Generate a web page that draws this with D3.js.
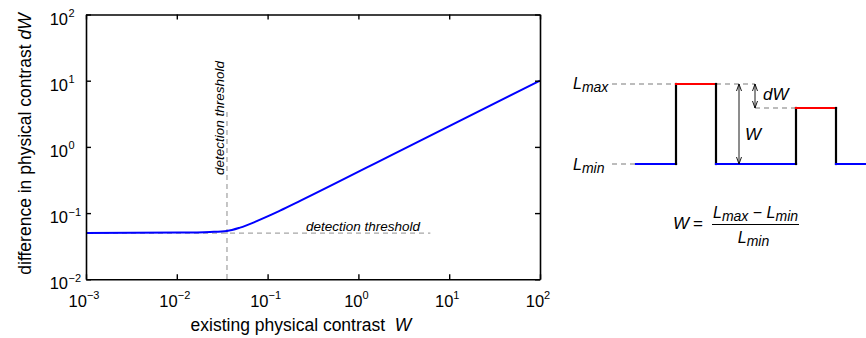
<!DOCTYPE html>
<html>
<head>
<meta charset="utf-8">
<script src="https://cdn.jsdelivr.net/npm/d3@7"></script>
<style>
  html, body { margin: 0; padding: 0; background: #fff; }
  svg { display: block; }
  text { font-family: "Liberation Sans", Arial, Helvetica, sans-serif; fill: #000; }
</style>
</head>
<body>
<svg id="chart" width="866" height="338"></svg>
<script>
// Threshold-vs-contrast curve: existing contrast W and the just-detectable difference dW
const contrastW = [0.001, 0.0108, 0.0232, 0.0357, 0.0497, 0.0726, 0.0984, 0.137, 0.228, 2.87, 100];
const deltaW    = [0.05, 0.0508, 0.052, 0.0538, 0.0604, 0.0736, 0.0882, 0.109, 0.153, 0.874, 10];

// Detection threshold markers
const thresholdW = 0.0357;      // vertical marker position
const thresholdDW = 0.05;       // horizontal marker level
const thresholdLineEndW = 6.2;  // horizontal marker extent

// Axis decades
const xTickExp = [-3, -2, -1, 0, 1, 2];
const yTickExp = [-2, -1, 0, 1, 2];

// Luminance square-wave illustration (time units, luminance levels)
const levelMin = 1, levelMax = 2, levelSecond = 1.7;
const waveT = [0, 1, 1, 2, 2, 4, 4, 5, 5, 5.75];
const waveL = [levelMin, levelMin, levelMax, levelMax, levelMin, levelMin, levelSecond, levelSecond, levelMin, levelMin];

const svg = d3.select("#chart");

// ---------- log-log plot ----------
const plot = { left: 86, right: 540, top: 14.5, bottom: 279.3 };
const x = d3.scaleLog().domain([1e-3, 1e2]).range([plot.left, plot.right]);
const y = d3.scaleLog().domain([1e-2, 1e2]).range([plot.bottom, plot.top]);

const g = svg.append("g");

// dashed threshold guides
g.append("line")
  .attr("x1", x(thresholdW)).attr("x2", x(thresholdW))
  .attr("y1", 112).attr("y2", y(1e-2))
  .attr("stroke", "#a6a6a6").attr("stroke-width", 1.3).attr("stroke-dasharray", "5,4");
g.append("line")
  .attr("x1", x(1e-3)).attr("x2", x(thresholdLineEndW))
  .attr("y1", y(thresholdDW)).attr("y2", y(thresholdDW))
  .attr("stroke", "#a6a6a6").attr("stroke-width", 1.3).attr("stroke-dasharray", "5,4");

// curve
const line = d3.line()
  .x((d, i) => x(contrastW[i]))
  .y((d, i) => y(deltaW[i]))
  .curve(d3.curveMonotoneX);
g.append("path")
  .datum(contrastW)
  .attr("d", line)
  .attr("fill", "none")
  .attr("stroke", "#0000ff")
  .attr("stroke-width", 2);

// threshold labels
g.append("text")
  .attr("x", 306).attr("y", 231)
  .attr("font-size", 13.5).attr("font-style", "italic").attr("fill", "#111")
  .text("detection threshold");
g.append("text")
  .attr("transform", `translate(${x(thresholdW) - 3},175) rotate(-90)`)
  .attr("font-size", 13.5).attr("font-style", "italic").attr("fill", "#111")
  .text("detection threshold");

// axes with inward ticks on all four sides
const tickLen = 5;
const xTicks = xTickExp.map(e => Math.pow(10, e));
const yTicks = yTickExp.map(e => Math.pow(10, e));

const axB = g.append("g").attr("transform", `translate(0,${plot.bottom})`)
  .call(d3.axisBottom(x).tickValues(xTicks).tickSize(-tickLen).tickSizeOuter(0).tickFormat(""));
const axT = g.append("g").attr("transform", `translate(0,${plot.top})`)
  .call(d3.axisTop(x).tickValues(xTicks).tickSize(-tickLen).tickSizeOuter(0).tickFormat(""));
const axL = g.append("g").attr("transform", `translate(${plot.left},0)`)
  .call(d3.axisLeft(y).tickValues(yTicks).tickSize(-tickLen).tickSizeOuter(0).tickFormat(""));
const axR = g.append("g").attr("transform", `translate(${plot.right},0)`)
  .call(d3.axisRight(y).tickValues(yTicks).tickSize(-tickLen).tickSizeOuter(0).tickFormat(""));
[axB, axT, axL, axR].forEach(a => {
  a.select(".domain").attr("stroke", "#000").attr("stroke-width", 1.6);
  a.selectAll(".tick line").attr("stroke", "#000").attr("stroke-width", 1.4);
});

const expText = e => (e < 0 ? "\u2212" + Math.abs(e) : String(e));

// x tick labels
xTickExp.forEach(e => {
  const t = g.append("text")
    .attr("x", x(Math.pow(10, e)) - 2).attr("y", 307)
    .attr("text-anchor", "middle").attr("font-size", 16.5);
  t.append("tspan").text("10");
  t.append("tspan").attr("dy", -8).attr("font-size", 11).text(expText(e));
});

// y tick labels
yTickExp.forEach(e => {
  const yy = y(Math.pow(10, e)) + 10;
  g.append("text").attr("x", 68).attr("y", yy)
    .attr("text-anchor", "end").attr("font-size", 16.5).text("10");
  g.append("text").attr("x", 68.5).attr("y", yy - 7.5)
    .attr("font-size", 11).text(expText(e));
});

// axis titles
const xt = g.append("text")
  .attr("x", 301).attr("y", 331).attr("text-anchor", "middle").attr("font-size", 17.5);
xt.append("tspan").text("existing physical contrast\u00a0 ");
xt.append("tspan").attr("font-style", "italic").text("W");

const yt = g.append("text")
  .attr("transform", "translate(31,144) rotate(-90)")
  .attr("text-anchor", "middle").attr("font-size", 17.5);
yt.append("tspan").text("difference in physical contrast ");
yt.append("tspan").attr("font-style", "italic").text("dW");

// ---------- square-wave illustration ----------
const tx = d3.scaleLinear().domain([0, 5.75]).range([636, 866]);
const ly = d3.scaleLinear().domain([levelMin, levelMax]).range([164, 84]);
const d2 = svg.append("g");
const dash = { stroke: "#a6a6a6", width: 1.3, dash: "5,4" };

function dashed(t0, t1, lvl) {
  d2.append("line")
    .attr("x1", tx(t0)).attr("x2", tx(t1))
    .attr("y1", ly(lvl)).attr("y2", ly(lvl))
    .attr("stroke", dash.stroke).attr("stroke-width", dash.width)
    .attr("stroke-dasharray", dash.dash);
}
dashed(-0.6, 1, levelMax);
dashed(-0.6, 0, levelMin);
dashed(2, 2.975, levelMax);
dashed(2.975, 4, levelSecond);

// wave: coloured horizontal runs, black transitions
for (let i = 0; i < waveT.length - 1; i++) {
  const horizontal = waveL[i] === waveL[i + 1];
  const col = horizontal ? (waveL[i] === levelMin ? "#0000ff" : "#ff0000") : "#000";
  d2.append("line")
    .attr("x1", tx(waveT[i])).attr("x2", tx(waveT[i + 1]))
    .attr("y1", ly(waveL[i])).attr("y2", ly(waveL[i + 1]))
    .attr("stroke", col).attr("stroke-width", 2.2)
    .attr("stroke-linecap", "square");
}

// double-headed arrows
function arrow(t, l0, l1) {
  const xx = tx(t), y0 = ly(l0), y1 = ly(l1);
  d2.append("line").attr("x1", xx).attr("x2", xx).attr("y1", y0).attr("y2", y1)
    .attr("stroke", "#000").attr("stroke-width", 0.9);
  const head = (yy, dir) => d2.append("path")
    .attr("d", `M${xx - 2.5},${yy + dir * 7} L${xx},${yy} L${xx + 2.5},${yy + dir * 7}`)
    .attr("fill", "none").attr("stroke", "#000").attr("stroke-width", 0.9);
  head(y0, -1);  // y0 is the lower end (larger pixel)
  head(y1, 1);
}
arrow(2.575, levelMin, levelMax);
arrow(2.975, levelSecond, levelMax);

d2.append("text").attr("x", 763).attr("y", 100)
  .attr("font-size", 17).attr("font-style", "italic").text("dW");
d2.append("text").attr("x", 745).attr("y", 140)
  .attr("font-size", 17).attr("font-style", "italic").text("W");

// L_max / L_min labels
function lumLabel(xx, yy, sub) {
  const t = d2.append("text").attr("x", xx).attr("y", yy)
    .attr("font-size", 16).attr("font-style", "italic");
  t.append("tspan").text("L");
  t.append("tspan").attr("dy", 3).attr("font-size", 14).text(sub);
  return t;
}
lumLabel(573, ly(levelMax) + 5, "max");
lumLabel(573, ly(levelMin) + 6, "min");

// contrast definition W = (Lmax - Lmin) / Lmin
const fx = 755.5;
d2.append("text").attr("x", 673).attr("y", 229)
  .attr("font-size", 17).attr("font-style", "italic").text("W");
d2.append("text").attr("x", 693).attr("y", 229)
  .attr("font-size", 17).text("=");
const num = d2.append("text").attr("x", fx).attr("y", 218)
  .attr("text-anchor", "middle").attr("font-size", 16).attr("font-style", "italic");
num.append("tspan").text("L");
num.append("tspan").attr("dy", 3).attr("font-size", 14).text("max");
num.append("tspan").attr("dy", -3).attr("font-style", "normal").text(" \u2212 ");
num.append("tspan").text("L");
num.append("tspan").attr("dy", 3).attr("font-size", 14).text("min");
d2.append("line").attr("x1", 712).attr("x2", 799).attr("y1", 224.5).attr("y2", 224.5)
  .attr("stroke", "#000").attr("stroke-width", 1);
const den = d2.append("text").attr("x", fx - 2).attr("y", 243)
  .attr("text-anchor", "middle").attr("font-size", 16).attr("font-style", "italic");
den.append("tspan").text("L");
den.append("tspan").attr("dy", 3).attr("font-size", 14).text("min");
</script>
</body>
</html>
